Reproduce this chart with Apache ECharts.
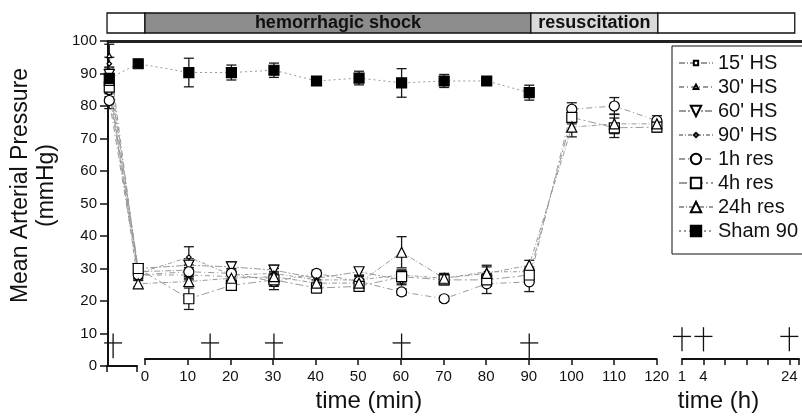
<!DOCTYPE html>
<html>
<head>
<meta charset="utf-8">
<script src="https://cdn.jsdelivr.net/npm/echarts@6/dist/echarts.min.js"></script>
<style>
html, body { margin: 0; padding: 0; background: #fff; }
#chart { width: 802px; height: 418px; }
</style>
</head>
<body>
<div id="chart"></div>
<script>
// positions on the minute scale: baseline, start of shock, then 10 ... 120 min
const timePos = [-8.7, -1.9, 10, 20, 30, 40, 50, 60, 70, 80, 90, 100, 110, 120];

const seriesNames = ["15' HS", "30' HS", "60' HS", "90' HS", '1h res', '4h res', '24h res', 'Sham 90'];

// mean values
const hs15 = [84.3, 29, 29.5];
const hs30 = [95.5, 28, 28, 27.5, 27];
const hs60 = [89.7, 30, 31, 30.5, 29.5, 27, 29, 26.5];
const hs90 = [93, 28.5, 33.5, 28, 28.5, 26.5, 26.5, 28, 27, 29, 29];
const res1 = [81.7, 28, 29, 28.5, 26, 28.5, 26, 22.8, 20.7, 25.3, 25.9, 79, 80, 75.5];
const res4 = [85.8, 30, 20.7, 24.8, 26.5, 24, 24.5, 27.5, 26.5, 26.5, 28, 76.5, 73.3, 73.5];
const res24 = [87.9, 25.3, 26, 27, 27.5, 25.5, 25.5, 35, 27, 28.5, 31, 73.5, 74.5, 74.5];
const sham = [88.5, 93, 90.3, 90.3, 91, 87.7, 88.6, 87.1, 87.7, 87.7, 84.1];

// error bars (+/-)
const hs15Err = [1.5, 1.2, 1.5];
const hs30Err = [3.5, 1, 1.5, 1.5, 1.5];
const hs60Err = [2, 1.2, 2, 1.5, 1.5, 1.2, 1.2, 1.5];
const hs90Err = [2, 1.5, 3.2, 1.5, 1.5, 1.2, 1.5, 1.5, 1.2, 2, 1.5];
const res1Err = [2.5, 1.5, 2, 1.5, 2.5, 1, 1.5, 1, 0.8, 3, 3, 2, 2.6, 1.5];
const res4Err = [2, 1.5, 3.3, 1, 2, 1.5, 1.5, 2, 1.5, 2, 2, 2, 3, 1.5];
const res24Err = [2, 1, 1.5, 1.5, 1.5, 1, 1, 4.8, 1.5, 2, 1.5, 3, 3, 1.5];
const shamErr = [1.5, 0.8, 4.4, 2.3, 2.2, 0.5, 2.1, 4.4, 2, 0.5, 2.3];

const seriesValues = [hs15, hs30, hs60, hs90, res1, res4, res24, sham];
const seriesErrors = [hs15Err, hs30Err, hs60Err, hs90Err, res1Err, res4Err, res24Err, shamErr];

// sacrifice marks (crosses)
const crossMin = [-7.8, 15, 30, 60, 90];
const crossHour = [0, 1, 5];
const crossRange = [2.4, 10, 7.1];

// hour axis labels
const hourLabels = ['1', '4', '', '', '', '24'];

// phases in the top bar
const phaseNames = ['', 'hemorrhagic shock', 'resuscitation', ''];
const phaseStart = [-8.9, 0, 90.5, 120.3];
const phaseEnd = [0, 90.5, 120.3, 152.4];
const phaseColors = ['#ffffff', '#8c8c8c', '#d9d9d9', '#ffffff'];

const FONT = "'Liberation Sans', Arial, sans-serif";

// symbols: small ones are padded so they draw smaller
const symbols = [
    'path://M0,0M24,24M7,7L17,7L17,17L7,17Z',
    'path://M0,0M24,24M12,6.5L17.5,16.5L6.5,16.5Z',
    'path://M0,0L20,0L10,17Z',
    'path://M0,0M24,24M12,7L17,12L12,17L7,12Z',
    'circle',
    'rect',
    'triangle',
    'rect'
];
const symbolSizes = [11, 11, 10, 11, 10, 10, 10, 10];
const dashes = [[6, 2, 1, 2], [5, 3, 1, 3], [7, 2, 2, 2], [4, 2, 1, 2], [6, 3, 1, 3], [8, 3, 2, 3], [5, 2, 1, 2], [2, 3]];

const chart = echarts.init(document.getElementById('chart'));

const plotTop = 41;
const plotBottom = 52;

// line series
const lineSeries = seriesNames.map(function (name, i) {
    return {
        name: name,
        type: 'line',
        xAxisIndex: 0,
        yAxisIndex: 0,
        data: seriesValues[i].map(function (v, k) { return [timePos[k], v]; }),
        symbol: symbols[i],
        symbolSize: symbolSizes[i],
        showAllSymbol: true,
        lineStyle: { color: '#9a9a9a', width: 1, type: dashes[i] },
        itemStyle: { color: i === 7 ? '#000' : '#fff', borderColor: '#000', borderWidth: 1.2 },
        z: 3,
        animation: false
    };
});

// error bars
const errSeries = seriesNames.map(function (name, i) {
    return {
        type: 'custom',
        xAxisIndex: 0,
        yAxisIndex: 0,
        silent: true,
        z: 2,
        encode: { x: 0, y: [1, 2] },
        data: seriesValues[i].map(function (v, k) {
            return [timePos[k], v - seriesErrors[i][k], v + seriesErrors[i][k]];
        }),
        renderItem: function (params, api) {
            const lo = api.coord([api.value(0), api.value(1)]);
            const hi = api.coord([api.value(0), api.value(2)]);
            const w = 5;
            const st = { stroke: '#1a1a1a', lineWidth: 1.3 };
            return {
                type: 'group',
                children: [
                    { type: 'line', shape: { x1: lo[0], y1: lo[1], x2: hi[0], y2: hi[1] }, style: st },
                    { type: 'line', shape: { x1: lo[0] - w, y1: lo[1], x2: lo[0] + w, y2: lo[1] }, style: st },
                    { type: 'line', shape: { x1: hi[0] - w, y1: hi[1], x2: hi[0] + w, y2: hi[1] }, style: st }
                ]
            };
        },
        animation: false
    };
});

function renderCross(params, api) {
    const lo = api.coord([api.value(0), crossRange[0]]);
    const hi = api.coord([api.value(0), crossRange[1]]);
    const mid = api.coord([api.value(0), crossRange[2]]);
    const st = { stroke: '#111', lineWidth: 1.3 };
    return {
        type: 'group',
        children: [
            { type: 'line', shape: { x1: lo[0], y1: lo[1], x2: hi[0], y2: hi[1] }, style: st },
            { type: 'line', shape: { x1: mid[0] - 9, y1: mid[1], x2: mid[0] + 9, y2: mid[1] }, style: st }
        ]
    };
}

const axisText = { fontFamily: FONT, fontSize: 15, color: '#111' };
const blackLine = { color: '#111', width: 2 };
const tickStyle = { color: '#111', width: 1.5 };

const option = {
    backgroundColor: '#fff',
    animation: false,
    grid: [
        { left: 106.6, right: 0, top: plotTop, bottom: plotBottom },
        { left: 145, width: 511.7, top: plotTop, bottom: plotBottom },
        { left: 106.6, width: 30.4, top: plotTop, bottom: plotBottom },
        { left: 682, width: 120, top: plotTop, bottom: plotBottom },
        { left: 106.6, right: 0, top: 13, height: 20 }
    ],
    xAxis: [
        {
            gridIndex: 0, type: 'value', min: -9, max: 154.1, position: 'top',
            axisLine: { show: true, onZero: false, lineStyle: { color: '#222', width: 3 } },
            axisTick: { show: false }, axisLabel: { show: false }, splitLine: { show: false }
        },
        {
            gridIndex: 1, type: 'value', min: 0, max: 120, interval: 10,
            axisLine: { onZero: false, lineStyle: blackLine },
            axisTick: { length: 6, lineStyle: tickStyle },
            axisLabel: Object.assign({ margin: 10 }, axisText),
            splitLine: { show: false },
            name: 'time (min)', nameLocation: 'middle', nameGap: 29,
            nameTextStyle: { fontFamily: FONT, fontSize: 24, color: '#111', padding: [0, 64, 0, 0] }
        },
        {
            gridIndex: 2, type: 'value', min: 0, max: 1, interval: 1,
            axisLine: { onZero: false, lineStyle: blackLine },
            axisTick: { length: 6, lineStyle: tickStyle },
            axisLabel: { show: false },
            splitLine: { show: false }
        },
        {
            gridIndex: 3, type: 'value', min: 0, max: 5.45, interval: 1,
            axisLine: { onZero: false, lineStyle: blackLine },
            axisTick: { length: 6, lineStyle: tickStyle },
            axisLabel: Object.assign({ margin: 10, formatter: function (v) { return hourLabels[v] || ''; } }, axisText),
            splitLine: { show: false },
            name: 'time (h)', nameLocation: 'middle', nameGap: 30,
            nameTextStyle: { fontFamily: FONT, fontSize: 24, color: '#111', padding: [0, 44, 0, 0] }
        },
        {
            gridIndex: 4, type: 'value', min: -9, max: 154.1, show: false
        }
    ],
    yAxis: [
        {
            gridIndex: 0, type: 'value', min: 0, max: 100, interval: 10,
            axisLine: { show: true, onZero: false, lineStyle: blackLine },
            axisTick: { show: true, length: 8, lineStyle: tickStyle },
            axisLabel: Object.assign({ margin: 11 }, axisText),
            splitLine: { show: false },
            name: 'Mean Arterial Pressure\n(mmHg)', nameLocation: 'middle', nameGap: 48,
            nameTextStyle: { fontFamily: FONT, fontSize: 23, lineHeight: 26, color: '#111', padding: [0, 0, 0, 36] }
        },
        { gridIndex: 1, type: 'value', min: 0, max: 100, show: false },
        { gridIndex: 2, type: 'value', min: 0, max: 100, show: false },
        { gridIndex: 3, type: 'value', min: 0, max: 100, show: false },
        { gridIndex: 4, type: 'value', min: 0, max: 1, show: false }
    ],
    legend: {
        data: seriesNames,
        orient: 'vertical',
        left: 672,
        top: 46,
        padding: [7, 60, 13, 6],
        itemWidth: 34,
        itemHeight: 13,
        itemGap: 4,
        borderColor: '#111',
        borderWidth: 1,
        backgroundColor: '#fff',
        textStyle: { fontFamily: FONT, fontSize: 20, lineHeight: 20, color: '#111' },
        selectedMode: false
    },
    series: [
        {
            type: 'custom',
            xAxisIndex: 4,
            yAxisIndex: 4,
            silent: true,
            data: phaseStart.map(function (s, i) { return [s, phaseEnd[i]]; }),
            encode: { x: [0, 1] },
            renderItem: function (params, api) {
                const i = params.dataIndex;
                const a = api.coord([api.value(0), 1]);
                const b = api.coord([api.value(1), 0]);
                return {
                    type: 'rect',
                    shape: { x: a[0], y: a[1], width: b[0] - a[0], height: b[1] - a[1] },
                    style: { fill: phaseColors[i], stroke: '#111', lineWidth: 1.3 },
                    textContent: {
                        style: { text: phaseNames[i], fontFamily: FONT, fontSize: 18, fontWeight: 'bold', fill: '#111' }
                    },
                    textConfig: { position: 'inside' }
                };
            }
        },
        {
            type: 'custom',
            xAxisIndex: 0,
            yAxisIndex: 0,
            silent: true,
            data: crossMin.map(function (x) { return [x]; }),
            renderItem: renderCross
        },
        {
            type: 'custom',
            xAxisIndex: 3,
            yAxisIndex: 3,
            silent: true,
            data: crossHour.map(function (x) { return [x]; }),
            renderItem: renderCross
        }
    ].concat(errSeries, lineSeries)
};

chart.setOption(option);
</script>
</body>
</html>
